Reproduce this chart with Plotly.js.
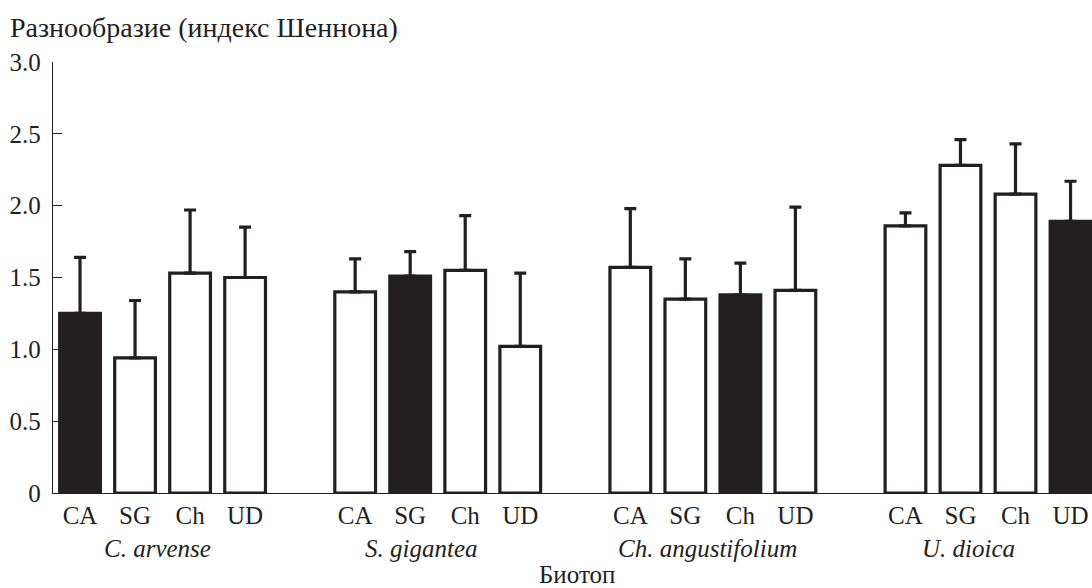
<!DOCTYPE html>
<html>
<head>
<meta charset="utf-8">
<script src="https://cdn.plot.ly/plotly-3.0.1.min.js"></script>
<style>html,body{margin:0;padding:0;background:#fff;}#chart{width:1092px;height:588px;}</style>
</head>
<body>
<div id="chart"></div>
<script>
// ---- data ----
const plants = ["C. arvense", "S. gigantea", "Ch. angustifolium", "U. dioica"];
const biotopes = ["CA", "SG", "Ch", "UD"];
const valuesCArvense = [1.25, 0.94, 1.53, 1.50];
const errorsCArvense = [0.39, 0.40, 0.44, 0.35];
const valuesSGigantea = [1.40, 1.51, 1.55, 1.02];
const errorsSGigantea = [0.23, 0.17, 0.38, 0.51];
const valuesChAngustifolium = [1.57, 1.35, 1.38, 1.41];
const errorsChAngustifolium = [0.41, 0.28, 0.22, 0.58];
const valuesUDioica = [1.86, 2.28, 2.08, 1.89];
const errorsUDioica = [0.09, 0.18, 0.35, 0.28];
const yTickVals = [0, 0.5, 1.0, 1.5, 2.0, 2.5, 3.0];
const yTickText = ["0", "0.5", "1.0", "1.5", "2.0", "2.5", "3.0"];
const yTitle = "Разнообразие (индекс Шеннона)";
const xTitle = "Биотоп";

// ---- build ----
const ink = "#231f20";
const allValues = [valuesCArvense, valuesSGigantea, valuesChAngustifolium, valuesUDioica];
const allErrors = [errorsCArvense, errorsSGigantea, errorsChAngustifolium, errorsUDioica];
const GROUP_STEP = 5;
const xs = [], ys = [], errs = [], errMinus = [], fills = [], tickText = [];
allValues.forEach((vals, g) => {
  vals.forEach((v, i) => {
    xs.push(g * GROUP_STEP + i);
    ys.push(v);
    errs.push(allErrors[g][i]);
    errMinus.push(0);
    fills.push(i === g ? ink : "#ffffff"); // own biotope is filled
    tickText.push(biotopes[i]);
  });
});

const trace = {
  type: "bar",
  x: xs,
  y: ys,
  width: 0.74,
  marker: { color: fills, line: { color: ink, width: 3.2 } },
  error_y: {
    type: "data", symmetric: false, array: errs, arrayminus: errMinus,
    color: ink, thickness: 3.2, width: 6
  },
  hoverinfo: "x+y"
};

const fam = "Liberation Serif, Times New Roman, serif";
const font = { family: fam, size: 25, color: ink };
const titleFont = { family: fam, size: 28, color: ink };
const labelShift = [-0.1, -0.3, -0.1, -0.35];
const annotations = plants.map((p, g) => ({
  text: "<i>" + p + "</i>",
  x: g * GROUP_STEP + 1.5 + labelShift[g], xref: "x",
  y: -0.128, yref: "paper",
  xanchor: "center", yanchor: "middle",
  showarrow: false, font: font
}));
annotations.push({
  text: xTitle, x: 0.504, xref: "paper", y: -0.222, yref: "paper",
  xanchor: "center", yanchor: "bottom", showarrow: false, font: font,
  borderpad: 0
});

const layout = {
  width: 1092, height: 588,
  margin: { l: 53, r: 0, t: 62, b: 95, pad: 0 },
  paper_bgcolor: "#ffffff", plot_bgcolor: "#ffffff",
  showlegend: false,
  font: font,
  title: {
    text: yTitle, font: titleFont,
    xref: "container", yref: "container",
    x: 10 / 1092, xanchor: "left", y: 1 - 27 / 588, yanchor: "middle"
  },
  xaxis: {
    range: [-0.491, 18.39],
    tickvals: xs, ticktext: tickText,
    ticks: "", showgrid: false, zeroline: false,
    showline: true, linecolor: ink, linewidth: 1.3,
    tickfont: font, fixedrange: true
  },
  yaxis: {
    range: [0, 3.0],
    tickvals: yTickVals, ticktext: yTickText,
    ticks: "inside", ticklen: 9, tickwidth: 1.3, tickcolor: ink,
    ticklabelstandoff: 6,
    showgrid: false, zeroline: false,
    showline: true, linecolor: ink, linewidth: 1.3,
    tickfont: font, fixedrange: true
  },
  annotations: annotations
};

Plotly.newPlot("chart", [trace], layout, { staticPlot: true });
</script>
</body>
</html>
